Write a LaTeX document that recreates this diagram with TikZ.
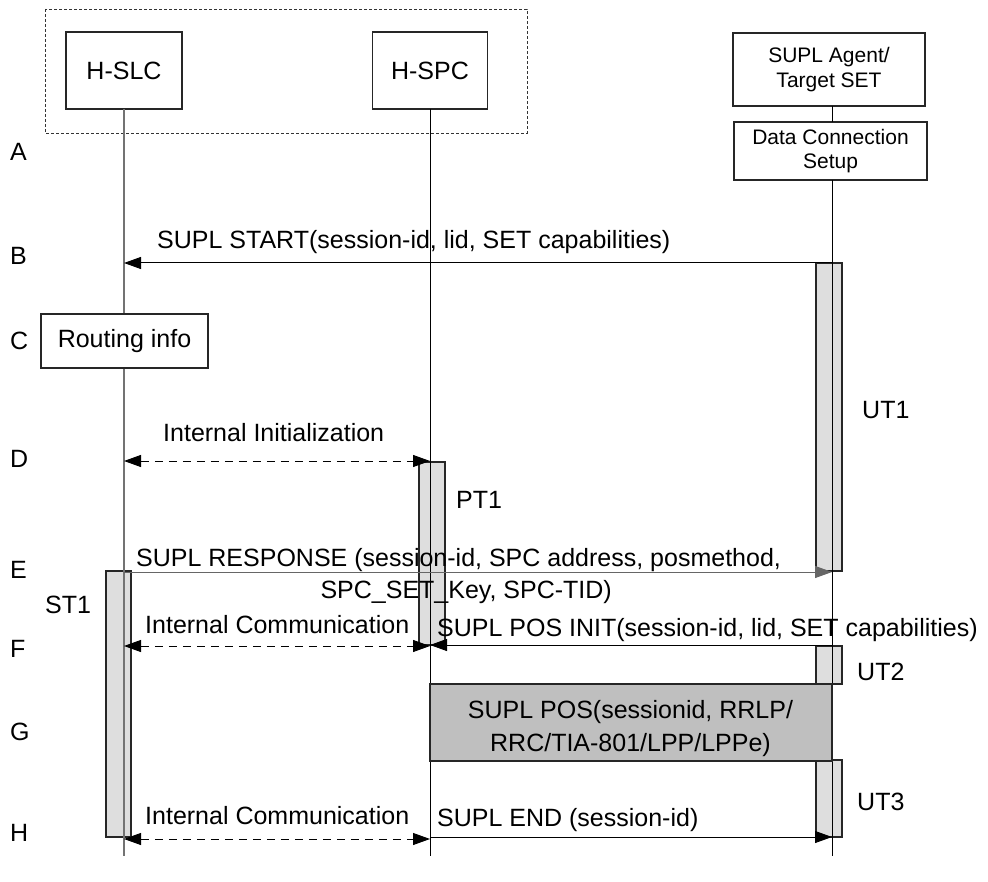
\documentclass[tikz,border=0pt]{standalone}
\usepackage{fontspec}
\setmainfont{Liberation Sans}
\usetikzlibrary{arrows.meta}
\newcommand\bigf{\fontsize{25}{32}\selectfont}
\newcommand\smlf{\fontsize{21}{24.5}\selectfont}
\begin{document}
\begin{tikzpicture}[x=1pt,y=-1pt,
  box/.style={draw=black!85, line width=1.2pt, fill=white, inner sep=0pt, font=\bigf},
  sbox/.style={box, font=\smlf, align=center},
  posbox/.style={draw=black!85, line width=1.2pt, fill=black!25, inner sep=0pt},
  bar/.style={draw=black!85, line width=1.2pt, fill=black!13},
  grp/.style={draw=black!80, line width=0.8pt, dash pattern=on 3pt off 2pt},
  life/.style={line width=1pt, draw=black},
  lifeg/.style={line width=1.2pt, draw=black!55},
  tip/.style={},
  msg/.style={line width=1pt, -{Triangle[length=17pt,width=12pt]}},
  imsg/.style={line width=1pt, dash pattern=on 8pt off 6pt, {Triangle[length=17pt,width=12pt]}-{Triangle[length=17pt,width=12pt]}},
  lbl/.style={inner sep=0pt, anchor=base west, font=\bigf},
  lble/.style={inner sep=0pt, anchor=base east, font=\bigf},
  lblc/.style={inner sep=0pt, anchor=base, font=\bigf}]
\useasboundingbox (0,0) rectangle (988,882);
\fill[white] (0,0) rectangle (988,882);

% group box
\draw[grp] (45,9) rectangle (527,133);

% header boxes
\node[box, minimum width=116, minimum height=77] (slc) at (124,70.5) {H-SLC};
\node[box, minimum width=115, minimum height=77] (spc) at (430,70.5) {H-SPC};
\node[sbox, minimum width=192, minimum height=73] (set) at (829,69.5) {SUPL Agent/\\Target SET};
\node[sbox, minimum width=193, minimum height=58] (dcs) at (830.5,151) {Data Connection\\Setup};

% lifeline points
\coordinate (slcT) at (124,109);
\coordinate (slcB) at (124,856);
\coordinate (spcT) at (430,109);
\coordinate (spcB) at (430,856);
\coordinate (setT) at (832,106);
\coordinate (setM) at (832,122);
\coordinate (setN) at (832,180);
\coordinate (setB) at (832,856);

% activation bars
\draw[bar] (816,263) rectangle (842,571);
\draw[bar] (419,462) rectangle (445,645);
\draw[bar] (106,571) rectangle (131,837);
\draw[bar] (816,646) rectangle (842,684);
\draw[bar] (816,760) rectangle (842,837);

% lifelines
\draw[lifeg] (slcT) -- (slcB);
\draw[life] (spcT) -- (spcB);
\draw[life] (setT) -- (setM);
\draw[life] (setN) -- (setB);

% routing info
\node[box, minimum width=167, minimum height=54] (rt) at (124.5,341) {Routing info};

% SUPL POS box
\node[posbox, minimum width=402, minimum height=77] (pos) at (631,722.5) {};
\node[lblc] (pos1) at (630.5,718) {SUPL POS(sessionid, RRLP/};
\node[lblc] (pos2) at (630.5,751) {RRC/TIA-801/LPP/LPPe)};

% message coordinates
\coordinate (b1) at (832,263);  \coordinate (b2) at (124,263);
\coordinate (d1) at (124,461);  \coordinate (d2) at (430,461);
\coordinate (e1) at (124,572);  \coordinate (e2) at (832,572);
\coordinate (f1) at (124,646);  \coordinate (f2) at (430,646);
\coordinate (g1) at (832,645);  \coordinate (g2) at (430,645);
\coordinate (h1) at (124,839);  \coordinate (h2) at (430,839);
\coordinate (i1) at (430,837);  \coordinate (i2) at (832,837);

\draw[msg] (b1) -- (b2);
\draw[imsg] (d1) -- (d2);
\draw[msg, draw=black!60] (e1) -- (e2);
\draw[imsg] (f1) -- (f2);
\draw[msg] (g1) -- (g2);
\draw[imsg] (h1) -- (h2);
\draw[msg] (i1) -- (i2);

% message labels
\node[lbl] (tb) at (157,249) {SUPL START(session-id, lid, SET capabilities)};
\node[lbl] (td) at (163,442) {Internal Initialization};
\node[lbl] (te1) at (136,566) {SUPL RESPONSE (session-id, SPC address, posmethod,};
\node[lble] (te2) at (612,598) {SPC\_SET\_Key, SPC-TID)};
\node[lbl] (tf) at (145,633) {Internal Communication};
\node[lbl] (tg) at (437,636) {SUPL POS INIT(session-id, lid, SET capabilities)};
\node[lbl] (th) at (145,824) {Internal Communication};
\node[lbl] (ti) at (437,826) {SUPL END (session-id)};

% timer labels
\node[lbl] (ut1) at (862,418) {UT1};
\node[lbl] (pt1) at (456,508) {PT1};
\node[lbl] (st1) at (45,613) {ST1};
\node[lbl] (ut2) at (857,680) {UT2};
\node[lbl] (ut3) at (857,810) {UT3};

% step letters
\node[lbl] (la) at (10,161) {A};
\node[lbl] (lb) at (10,265) {B};
\node[lbl] (lc) at (10,350) {C};
\node[lbl] (ld) at (10,467) {D};
\node[lbl] (le) at (10,578) {E};
\node[lbl] (lf) at (10,657) {F};
\node[lbl] (lg) at (10,740) {G};
\node[lbl] (lh) at (10,841) {H};
\end{tikzpicture}
\end{document}
